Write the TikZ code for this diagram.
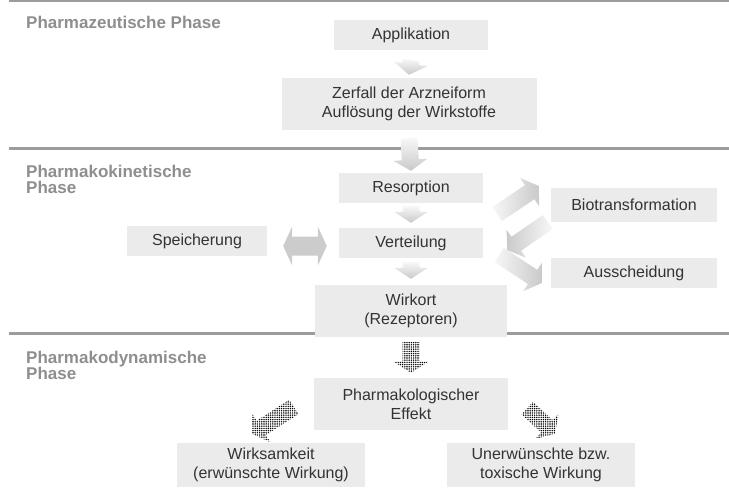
\documentclass[tikz,border=0pt]{standalone}
\usepackage{fontspec}
\setmainfont{Liberation Sans}
\usetikzlibrary{calc,patterns.meta}

\definecolor{boxgrau}{HTML}{EBEBEB}
\definecolor{textgrau}{HTML}{333333}
\definecolor{phasengrau}{HTML}{8E8E8E}
\definecolor{liniengrau}{HTML}{9C9C9C}

\newcommand\pfeil[3][]{%
  \path (#2) coordinate (p-a) (#3) coordinate (p-b);
  \path ($(p-b)!11pt!(p-a)$) coordinate (p-h);
  \path[#1] ($(p-a)!8.5pt!90:(p-b)$) -- ($(p-h)!8.5pt!90:(p-b)$)
    -- ($(p-h)!17pt!90:(p-b)$) -- (p-b) -- ($(p-h)!17pt!-90:(p-b)$)
    -- ($(p-h)!8.5pt!-90:(p-b)$) -- ($(p-a)!8.5pt!-90:(p-b)$) -- cycle;}
\newcommand\doppelpfeil[3][]{%
  \path (#2) coordinate (p-a) (#3) coordinate (p-b);
  \path ($(p-a)!9pt!(p-b)$) coordinate (p-g) ($(p-b)!9pt!(p-a)$) coordinate (p-h);
  \path[#1] (p-a) -- ($(p-g)!19.5pt!90:(p-b)$) -- ($(p-g)!9.5pt!90:(p-b)$)
    -- ($(p-h)!9.5pt!90:(p-b)$) -- ($(p-h)!19.5pt!90:(p-b)$) -- (p-b)
    -- ($(p-h)!19.5pt!-90:(p-b)$) -- ($(p-h)!9.5pt!-90:(p-b)$)
    -- ($(p-g)!9.5pt!-90:(p-b)$) -- ($(p-g)!19.5pt!-90:(p-b)$) -- cycle;}

\begin{document}
\begin{tikzpicture}[
    x=1pt, y=-1pt,
    kasten/.style={fill=boxgrau, text=textgrau, align=center, inner sep=0pt,
      font=\fontsize{16}{19}\selectfont},
    phase/.style={text=phasengrau, align=left, inner sep=0pt, anchor=north west,
      font=\fontsize{17}{16}\selectfont\bfseries},
    linie/.style={draw=liniengrau, line width=3pt},
    hell/.style={top color=gray!6, bottom color=gray!42},
    punkte/.style={pattern={Dots[distance=2.2pt,radius=0.8pt]}, pattern color=black},
  ]
  \useasboundingbox (0,0) rectangle (729,490);

  \draw[linie, line width=2pt] (9,1) -- (729,1);
  \draw[linie] (9,148) -- (729,148);
  \draw[linie] (9,333) -- (729,333);

  \node[phase] (ph1) at (26,16) {Pharmazeutische Phase};
  \node[phase] (ph2) at (26,165) {Pharmakokinetische\\Phase};
  \node[phase] (ph3) at (26,351) {Pharmakodynamische\\Phase};

  \node[kasten, minimum width=154, minimum height=30] (appl) at (411,35) {Applikation};
  \node[kasten, minimum width=255, minimum height=52] (zerf) at (409,104) {Zerfall der Arzneiform\\Auflösung der Wirkstoffe};
  \node[kasten, minimum width=144, minimum height=30] (reso) at (411,188) {Resorption};
  \node[kasten, minimum width=144, minimum height=30] (vert) at (411,243) {Verteilung};
  \node[kasten, minimum width=140, minimum height=30] (speich) at (197,241) {Speicherung};
  \node[kasten, minimum width=166, minimum height=34] (bio) at (634,205) {Biotransformation};
  \node[kasten, minimum width=166, minimum height=30] (aus) at (634,273) {Ausscheidung};
  \node[kasten, minimum width=192, minimum height=52] (wirk) at (411,311) {Wirkort\\(Rezeptoren)};
  \node[kasten, minimum width=194, minimum height=52] (eff) at (411,404) {Pharmakologischer\\Effekt};
  \node[kasten, minimum width=188, minimum height=44] (wirks) at (271,465) {Wirksamkeit\\(erwünschte Wirkung)};
  \node[kasten, minimum width=188, minimum height=44] (uner) at (541,465) {Unerwünschte bzw.\\toxische Wirkung};

  \pfeil[hell]{$(appl.south)+(0,10)$}{$(zerf.north)+(0,-3)$}
  \pfeil[hell]{$(zerf.south)+(0,8)$}{$(reso.north)+(0,-2)$}
  \pfeil[hell]{$(reso.south)+(0,3)$}{$(vert.north)+(0,-5)$}
  \pfeil[hell]{$(vert.south)+(0,4)$}{$(wirk.north)+(0,-6)$}
  \doppelpfeil[left color=gray!40, middle color=gray!6, right color=gray!40]{$(speich.east)+(16,5)$}{$(vert.west)+(-12,3)$}
  \pfeil[left color=gray!6, right color=gray!42]{$(vert.east)+(14,-29)$}{$(bio.west)+(-12,-19)$}
  \pfeil[left color=gray!42, right color=gray!6]{$(bio.west)+(-3,17)$}{$(vert.east)+(24,7)$}
  \pfeil[left color=gray!6, right color=gray!42]{$(vert.east)+(16,12)$}{$(aus.west)+(-9,10)$}

  \pfeil[punkte]{$(wirk.south)+(0,5)$}{$(eff.north)+(0,-5)$}
  \pfeil[punkte]{$(eff.west)+(-20,3)$}{$(wirks.north)+(-19,-9)$}
  \pfeil[punkte]{$(eff.east)+(19,4)$}{$(uner.north)+(14,-9)$}
\end{tikzpicture}
\end{document}
